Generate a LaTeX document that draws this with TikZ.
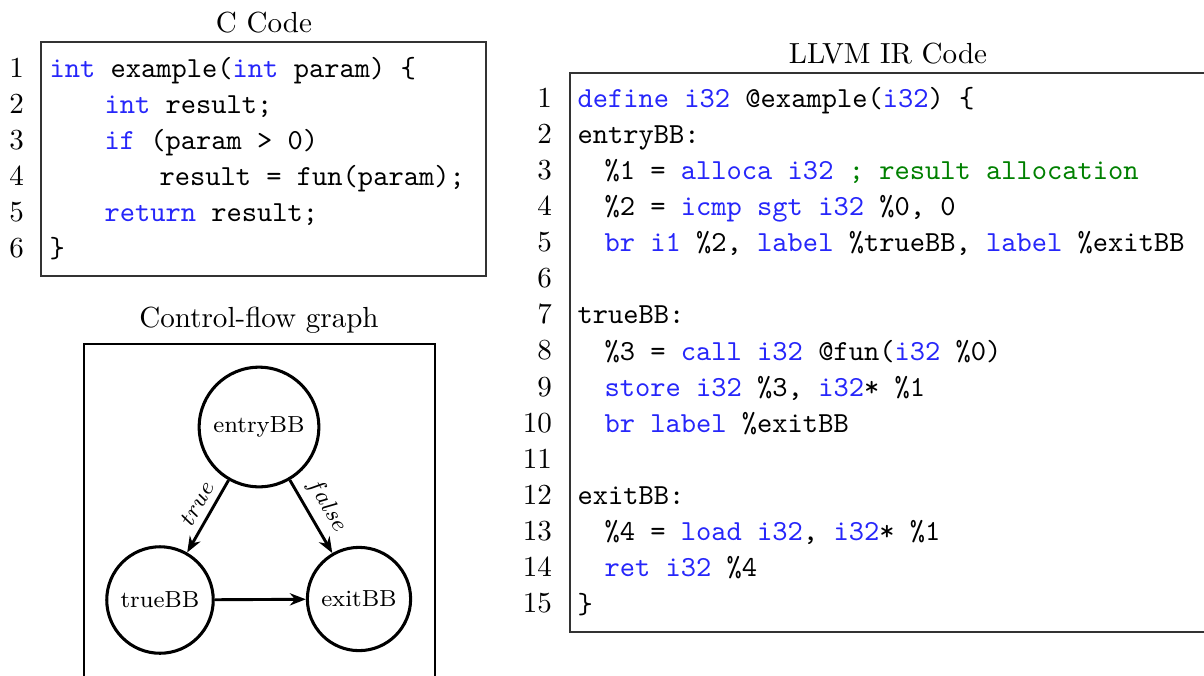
\documentclass[tikz,border=0pt]{standalone}
\usetikzlibrary{arrows.meta}
\definecolor{kwblue}{RGB}{38,38,250}
\definecolor{cmgreen}{RGB}{0,128,0}
\newcommand{\kw}[1]{\textcolor{kwblue}{#1}}
\newcommand{\cmt}[1]{\textcolor{cmgreen}{#1}}
\begin{document}
\begin{tikzpicture}[x=0.344pt,y=-0.344pt,
  codeline/.style={anchor=base west,inner sep=0pt,font=\ttfamily},
  lineno/.style={anchor=base east,inner sep=0pt},
  title/.style={anchor=base,inner sep=0pt},
  codebox/.style={draw=black!80,line width=0.5pt},
  cfgbox/.style={draw,line width=0.9pt},
  block/.style={draw,circle,line width=1.05pt,inner sep=3.6pt,font=\footnotesize},
  flow/.style={-{Stealth[length=5.5pt,width=4.2pt]},line width=1pt},
  branch/.style={sloped,above,inner sep=2.5pt,font=\footnotesize}]
\useasboundingbox (0,0) rectangle (1204,675);
\clip (0,0) rectangle (1204,675);

% ---- C source ----
\node[title] (ctitle) at (264,32) {C Code};
\draw[codebox] (41,42) rectangle (486,276);
\foreach \i in {1,...,6}
  \node[lineno] (cn\i) at (24.5,{77+36*(\i-1)}) {\i};
\node[codeline] (c1) at (49,77)  {\kw{int} example(\kw{int} param) \{};
\node[codeline] (c2) at (104,113) {\kw{int} result;};
\node[codeline] (c3) at (104,149) {\kw{if} (param > 0)};
\node[codeline] (c4) at (159,185) {result = fun(param);};
\node[codeline] (c5) at (104,221) {\kw{return} result;};
\node[codeline] (c6) at (49,257)  {\}};

% ---- control-flow graph ----
\node[title] (gtitle) at (259,327) {Control-flow graph};
\draw[cfgbox] (84,344) rectangle (435,700);
\node[block] (entry) at (259,427) {entryBB};
\node[block] (trueBB) at (160,600) {trueBB};
\node[block] (exitBB) at (359,599) {exitBB};
\draw[flow] (entry) -- node[branch,pos=0.43] (ltrue) {$true$} (trueBB);
\draw[flow] (entry) -- node[branch,pos=0.48] (lfalse) {$false$} (exitBB);
\draw[flow] (trueBB) -- (exitBB);

% ---- LLVM IR ----
\node[title] (ltitle) at (888,63) {LLVM IR Code};
\draw[codebox] (570,73) rectangle (1230,632);
\foreach \i in {1,...,15}
  \node[lineno] (ln\i) at (552.5,{107+36.14*(\i-1)}) {\i};
\node[codeline] (l1) at (577,107.0) {\kw{define} \kw{i32} @example(\kw{i32}) \{};
\node[codeline] (l2) at (577,143.1) {entryBB:};
\node[codeline] (l3) at (604,179.3) {\%1 = \kw{alloca} \kw{i32} \cmt{; result allocation}};
\node[codeline] (l4) at (604,215.4) {\%2 = \kw{icmp} \kw{sgt} \kw{i32} \%0, 0};
\node[codeline] (l5) at (604,251.6) {\kw{br} \kw{i1} \%2, \kw{label} \%trueBB, \kw{label} \%exitBB};
\node[codeline] (l7) at (577,323.8) {trueBB:};
\node[codeline] (l8) at (604,360.0) {\%3 = \kw{call} \kw{i32} @fun(\kw{i32} \%0)};
\node[codeline] (l9) at (604,396.1) {\kw{store} \kw{i32} \%3, \kw{i32}* \%1};
\node[codeline] (l10) at (604,432.3) {\kw{br} \kw{label} \%exitBB};
\node[codeline] (l12) at (577,504.5) {exitBB:};
\node[codeline] (l13) at (604,540.7) {\%4 = \kw{load} \kw{i32}, \kw{i32}* \%1};
\node[codeline] (l14) at (604,576.8) {\kw{ret} \kw{i32} \%4};
\node[codeline] (l15) at (577,613.0) {\}};
\end{tikzpicture}
\end{document}
